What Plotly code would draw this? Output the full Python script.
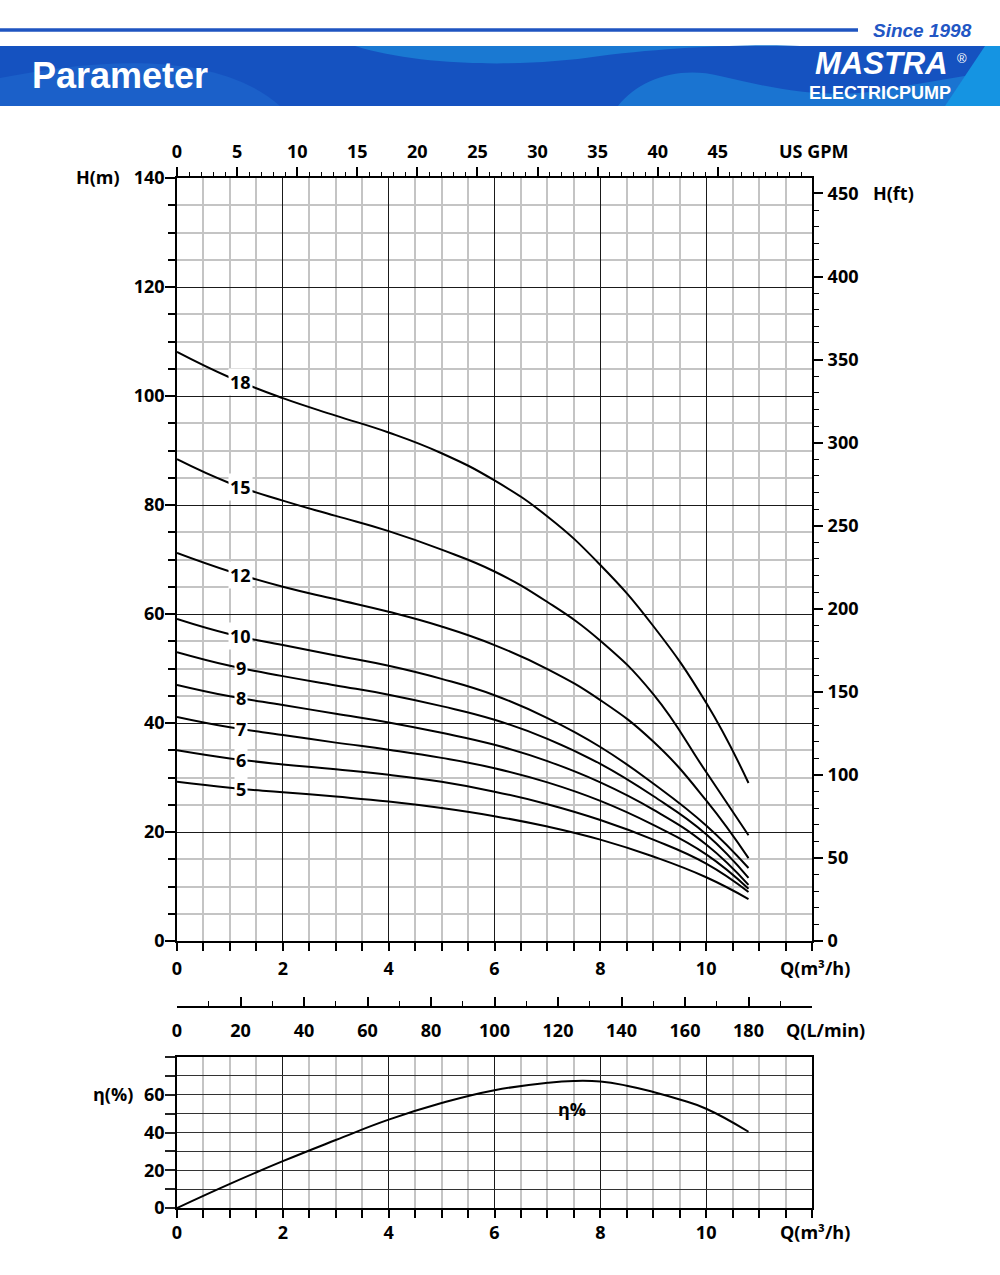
import numpy as np
import plotly.graph_objects as go

# ---------------- data ----------------
Q = [0, 1, 2, 3, 4, 5, 6, 7, 8, 9, 10, 10.8]          # m3/h
STAGES = ["18", "15", "12", "10", "9", "8", "7", "6", "5"]
H_18 = [108.1, 103.4, 99.6, 96.4, 93.3, 89.5, 84.5, 77.9, 69.0, 57.8, 43.7, 29.0]
H_15 = [88.4, 84.0, 80.8, 78.0, 75.2, 71.8, 67.8, 62.2, 55.1, 45.3, 31.0, 19.4]
H_12 = [71.2, 67.8, 65.0, 62.7, 60.4, 57.7, 54.3, 49.9, 44.2, 36.6, 25.8, 15.2]
H_10 = [59.1, 56.3, 54.3, 52.4, 50.5, 48.1, 45.1, 40.9, 35.6, 28.9, 21.2, 13.4]
H_9 = [53.0, 50.5, 48.6, 46.9, 45.2, 43.1, 40.6, 37.1, 32.5, 26.6, 19.6, 11.6]
H_8 = [47.0, 44.9, 43.3, 41.7, 40.1, 38.2, 36.0, 33.0, 29.1, 24.1, 17.7, 10.3]
H_7 = [41.1, 39.2, 37.8, 36.4, 35.1, 33.6, 31.7, 29.1, 25.7, 21.3, 15.9, 9.6]
H_6 = [35.0, 33.5, 32.4, 31.5, 30.5, 29.2, 27.4, 25.1, 22.2, 18.6, 14.2, 9.0]
H_5 = [29.2, 28.1, 27.3, 26.5, 25.6, 24.4, 22.9, 21.0, 18.6, 15.5, 11.7, 7.7]
HEADS = [H_18, H_15, H_12, H_10, H_9, H_8, H_7, H_6, H_5]
Q_LABEL = 1.2

Q_EFF = [0, 1, 2, 3, 4, 5, 6, 7, 7.5, 8, 8.5, 9, 9.5, 10, 10.8]
EFF = [0, 12.8, 24.8, 36.0, 46.8, 55.6, 62.4, 66.3, 67.3, 67.0, 64.8, 61.5, 57.5, 52.6, 40.4]
EFF_LABEL = ("η%", 7.47, 52.6)

GPM_PER_M3H = 4.40287
FT_PER_M = 3.28084
LMIN_PER_M3H = 1000 / 60

X_TICKS = [0, 2, 4, 6, 8, 10]
H_TICKS = list(range(0, 141, 20))
FT_TICKS = list(range(0, 451, 50))
GPM_TICKS = list(range(0, 46, 5))
LMIN_TICKS = list(range(0, 201, 20))
EFF_TICKS = list(range(0, 81, 10))

# ---------------- helpers ----------------
W, HGT = 1000, 1275
def px(x):
    return x / W
def py(y):
    return 1 - y / HGT

FONT = "Open Sans"
TICKFONT = dict(family=FONT, size=18, color="black", weight=700)
GRID_MINOR = "#c4c4c4"
GRID_MAJOR = "#1a1a1a"
CURVE = dict(color="black", width=2, shape="spline", smoothing=1.3)

fig = go.Figure()

# head curves
for name, h in zip(STAGES, HEADS):
    fig.add_trace(go.Scatter(x=Q, y=h, mode="lines", xaxis="x", yaxis="y", line=CURVE,
                             hoverinfo="skip", showlegend=False))
    fig.add_annotation(x=Q_LABEL, y=float(np.interp(Q_LABEL, Q, h)), xref="x", yref="y",
                       text=name, showarrow=False, bgcolor="white", borderpad=1,
                       xanchor="center", yanchor="middle",
                       font=dict(family=FONT, size=18, color="black", weight=700))

# invisible traces for secondary axes
fig.add_trace(go.Scatter(x=np.array(Q) * GPM_PER_M3H, y=H_18, xaxis="x3", yaxis="y",
                         mode="lines", line=dict(width=0), opacity=0, hoverinfo="skip", showlegend=False))
fig.add_trace(go.Scatter(x=Q, y=np.array(H_18) * FT_PER_M, xaxis="x", yaxis="y3",
                         mode="lines", line=dict(width=0), opacity=0, hoverinfo="skip", showlegend=False))

# efficiency
fig.add_trace(go.Scatter(x=Q_EFF, y=EFF, mode="lines", xaxis="x2", yaxis="y2", line=CURVE,
                         hoverinfo="skip", showlegend=False))
fig.add_trace(go.Scatter(x=np.array(Q_EFF) * LMIN_PER_M3H, y=EFF, xaxis="x4", yaxis="y2",
                         mode="lines", line=dict(width=0), opacity=0, hoverinfo="skip", showlegend=False))
fig.add_annotation(x=EFF_LABEL[1], y=EFF_LABEL[2], xref="x2", yref="y2", text=EFF_LABEL[0],
                   showarrow=False, xanchor="center", yanchor="middle",
                   font=dict(family=FONT, size=18, color="black", weight=700))

minor_x = [v for v in np.arange(0, 12.01, 0.5) if v not in X_TICKS]
minor_h = [v for v in range(0, 141, 5) if v not in H_TICKS]
minor_ft = [v for v in range(0, 460, 10) if v not in FT_TICKS]
minor_gpm = [v for v in range(0, 53) if v not in GPM_TICKS]
minor_lmin = [v for v in range(0, 201, 10) if v not in LMIN_TICKS]

xdom = [px(177), px(812)]
def x_axis(anchor, standoff):
    return dict(domain=xdom, anchor=anchor, range=[0, 12], tickmode="array", tickvals=X_TICKS,
                ticktext=[str(v) for v in X_TICKS],
                ticks="outside", ticklen=8, tickwidth=1.5, tickcolor="black",
                showgrid=True, gridcolor=GRID_MAJOR, gridwidth=1.2,
                showline=True, linecolor="black", linewidth=1.6, mirror=True,
                zeroline=False, tickfont=TICKFONT, ticklabelstandoff=standoff, automargin=False,
                minor=dict(tickmode="array", tickvals=minor_x, ticks="outside", ticklen=8,
                           tickwidth=1.5, tickcolor="black", showgrid=True,
                           gridcolor=GRID_MINOR, gridwidth=1.5))

fig.update_layout(
    width=W, height=HGT, margin=dict(l=0, r=0, t=0, b=0, pad=0, autoexpand=False),
    paper_bgcolor="white", plot_bgcolor="white", showlegend=False,
    xaxis=x_axis("y", 3),
    yaxis=dict(domain=[py(941), py(178)], anchor="x", range=[0, 140], tickmode="array",
               tickvals=H_TICKS, ticks="outside", ticklen=10, tickwidth=1.5, tickcolor="black",
               showgrid=True, gridcolor=GRID_MAJOR, gridwidth=1.2,
               showline=True, linecolor="black", linewidth=1.6, mirror=True, zeroline=False,
               tickfont=TICKFONT, ticklabelstandoff=-3, automargin=False,
               minor=dict(tickmode="array", tickvals=minor_h, ticks="outside", ticklen=7,
                          tickwidth=1.5, tickcolor="black", showgrid=True,
                          gridcolor=GRID_MINOR, gridwidth=1.5)),
    xaxis3=dict(overlaying="x", side="top", anchor="y", range=[0, 12 * GPM_PER_M3H],
                tickmode="array", tickvals=GPM_TICKS, ticks="outside", ticklen=10, tickwidth=1.5,
                tickcolor="black", showgrid=False, showline=False, zeroline=False,
                tickfont=TICKFONT, ticklabelstandoff=2, automargin=False,
                minor=dict(tickmode="array", tickvals=minor_gpm, ticks="outside", ticklen=5,
                           tickwidth=1.3, tickcolor="black", showgrid=False)),
    yaxis3=dict(overlaying="y", side="right", anchor="x", range=[0, 140 * FT_PER_M],
                tickmode="array", tickvals=FT_TICKS, ticks="outside", ticklen=10, tickwidth=1.5,
                tickcolor="black", showgrid=False, showline=False, zeroline=False,
                tickfont=TICKFONT, ticklabelstandoff=1, automargin=False,
                minor=dict(tickmode="array", tickvals=minor_ft, ticks="outside", ticklen=6,
                           tickwidth=1.3, tickcolor="black", showgrid=False)),
    xaxis2=x_axis("y2", 0),
    yaxis2=dict(domain=[py(1208), py(1057)], anchor="x2", range=[0, 80], tickmode="array",
                tickvals=EFF_TICKS, ticktext=[str(v) if v % 20 == 0 and v < 80 else "" for v in EFF_TICKS],
                ticks="outside", ticklen=10, tickwidth=1.5, tickcolor="#222",
                showgrid=True, gridcolor="#333333", gridwidth=1.3,
                showline=True, linecolor="black", linewidth=1.6, mirror=True, zeroline=False,
                tickfont=TICKFONT, ticklabelstandoff=-3, automargin=False),
    xaxis4=dict(overlaying="x2", anchor="free", position=py(1007), side="bottom",
                range=[0, 12 * LMIN_PER_M3H], tickmode="array", tickvals=LMIN_TICKS,
                ticktext=[str(v) if v <= 180 else "" for v in LMIN_TICKS],
                ticks="inside", ticklen=9, tickwidth=1.5, tickcolor="black",
                showgrid=False, showline=True, linecolor="black", linewidth=1.5, zeroline=False,
                tickfont=TICKFONT, ticklabelstandoff=8, automargin=False,
                minor=dict(tickmode="array", tickvals=minor_lmin, ticks="inside", ticklen=5,
                           tickwidth=1.3, tickcolor="black", showgrid=False)),
)

# axis titles
TITLE_FONT = dict(family=FONT, size=18, color="black", weight=700)
for txt, x, y in [("H(m)", 98, 177), ("H(ft)", 893, 193), ("US GPM", 814, 151),
                  ("Q(m³/h)", 815, 968), ("Q(L/min)", 825, 1030), ("η(%)", 113, 1094),
                  ("Q(m³/h)", 815, 1232)]:
    fig.add_annotation(x=px(x), y=py(y), xref="paper", yref="paper", text=txt,
                       showarrow=False, font=TITLE_FONT, xanchor="center", yanchor="middle")

# ---------------- header banner ----------------
def path(pts_cmds):
    out = []
    for item in pts_cmds:
        if isinstance(item, str):
            out.append(item)
        else:
            out.append(f"{px(item[0]):.5f},{py(item[1]):.5f}")
    return " ".join(out)

shapes = []
shapes.append(dict(type="rect", xref="paper", yref="paper", x0=0, x1=1, y0=py(106), y1=py(46),
                   fillcolor="#1552c0", line=dict(width=0), layer="below"))
shapes.append(dict(type="path", xref="paper", yref="paper", layer="below", line=dict(width=0),
                   fillcolor="#1b60c9",
                   path=path(["M", (0, 106), "L", (0, 78), "C", (90, 60), (215, 48), (280, 106), "Z"])))
shapes.append(dict(type="path", xref="paper", yref="paper", layer="below", line=dict(width=0),
                   fillcolor="#1a79d2",
                   path=path(["M", (355, 46), "C", (420, 66), (520, 68), (600, 56),
                              "C", (680, 46), (760, 44), (800, 46), "Z"])))
shapes.append(dict(type="path", xref="paper", yref="paper", layer="below", line=dict(width=0),
                   fillcolor="#1a74d1",
                   path=path(["M", (618, 106), "C", (640, 78), (680, 66), (720, 76),
                              "C", (770, 88), (820, 98), (870, 92),
                              "L", (1000, 70), "L", (1000, 106), "Z"])))
shapes.append(dict(type="path", xref="paper", yref="paper", layer="below", line=dict(width=0),
                   fillcolor="#1594e2",
                   path=path(["M", (945, 106), "L", (985, 46), "L", (1000, 46), "L", (1000, 106), "Z"])))
shapes.append(dict(type="line", xref="paper", yref="paper", x0=0, x1=px(858), y0=py(30), y1=py(30),
                   line=dict(color="#1f55c1", width=3.5), layer="below"))
fig.update_layout(shapes=shapes)

HEADFONT = "Liberation Sans"
def head_text(txt, x, y, size, color="white", anchor="center"):
    fig.add_annotation(x=px(x), y=py(y), xref="paper", yref="paper", text=txt, showarrow=False,
                       xanchor=anchor, yanchor="middle",
                       font=dict(family=HEADFONT, size=size, color=color))

head_text("<b><i>Since 1998</i></b>", 922, 30, 19, color="#2256c4")
head_text("<b>Parameter</b>", 30, 76, 36, anchor="left")
head_text("<b><i>MASTRA</i></b>", 881, 64, 31)
head_text("®", 962, 58, 13)
head_text("<b>ELECTRICPUMP</b>", 880, 93, 18)

fig.write_html("out.html", config={"displayModeBar": False},
               post_script="document.body.style.margin='0';")
